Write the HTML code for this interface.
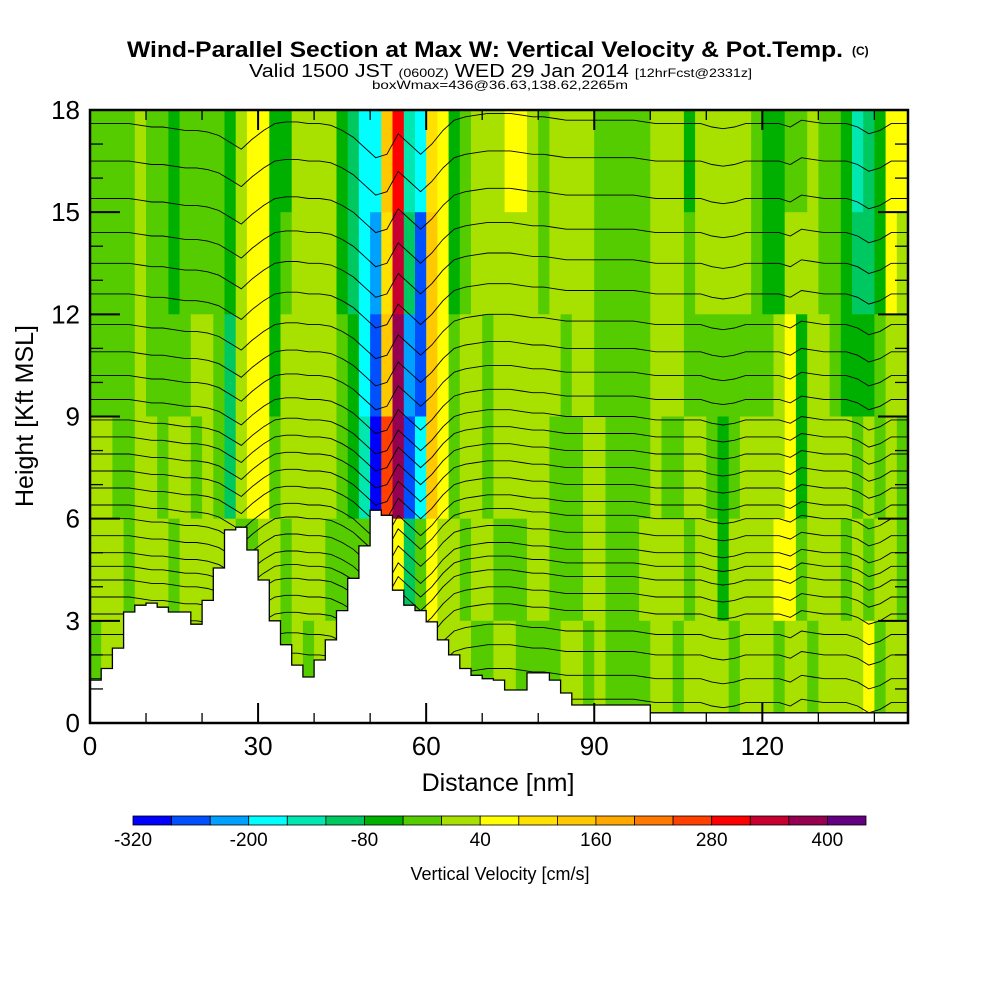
<!DOCTYPE html>
<html><head><meta charset="utf-8"><style>
html,body{margin:0;padding:0;background:#fff;}
svg{display:block;font-family:"Liberation Sans",sans-serif;}
</style></head><body>
<svg id="chart" width="1000" height="1000" viewBox="0 0 1000 1000" xmlns="http://www.w3.org/2000/svg">
<defs><clipPath id="plotclip"><rect x="90" y="110" width="818" height="613"/></clipPath></defs>
<rect x="0" y="0" width="1000" height="1000" fill="#fff"/>
<text x="127" y="57" font-size="22" font-weight="bold" textLength="716" lengthAdjust="spacingAndGlyphs">Wind-Parallel Section at Max W: Vertical Velocity &amp; Pot.Temp.</text>
<text x="852" y="55" font-size="12" font-weight="bold">(C)</text>
<text x="249" y="77" font-size="18" textLength="503" lengthAdjust="spacingAndGlyphs">Valid 1500 JST <tspan font-size="12">(0600Z)</tspan> WED 29 Jan 2014 <tspan font-size="12">[12hrFcst@2331z]</tspan></text>
<text x="372" y="89" font-size="12" textLength="256" lengthAdjust="spacingAndGlyphs">boxWmax=436@36.63,138.62,2265m</text>
<g id="field" clip-path="url(#plotclip)"></g>
<g id="contours" clip-path="url(#plotclip)"></g>
<g id="terrain" clip-path="url(#plotclip)"></g>
<g id="axes"></g>
<text x="498" y="791" font-size="25" text-anchor="middle">Distance [nm]</text>
<text x="33" y="416" font-size="25" text-anchor="middle" transform="rotate(-90 33 416)">Height [Kft MSL]</text>
<g id="colorbar"></g>
<text x="500" y="880" font-size="18" text-anchor="middle">Vertical Velocity [cm/s]</text>
</svg>
<script>
// ---- data ----
const binEdges = [-320,-280,-240,-200,-160,-120,-80,-40,0,40,80,120,160,200,240,280,320,360,400,440];
const binColors = ["#0000ff","#0050ff","#00a0ff","#00ffff","#00e8b0","#00c860","#00b000","#55cc00","#a8e000","#ffff00","#ffe000","#ffc800","#ffa800","#ff7800","#ff4000","#ff0000","#c80030","#960050","#640080"];
const cbLabels = [-320,-200,-80,40,160,280,400];
const xTicks = [0,30,60,90,120];
const yTicks = [0,3,6,9,12,15,18];
const colWidthNm = 2;
const rowEdgesKft = [18,15,12,9,6,3,0];
const w_r0 = [-20,-20,-20,-20,20,-20,-20,-60,-20,-20,-20,-20,-60,20,60,60,-60,-60,20,20,20,20,-60,-100,-180,-180,140,300,-140,-180,100,60,-60,-20,20,20,20,60,60,20,-20,20,20,20,20,-20,-20,-20,-20,-20,20,20,20,-60,20,20,20,20,20,-20,-60,-60,-20,-20,20,-20,-20,-60,-140,-100,-60,60,60];
const w_r1 = [-20,-20,-20,-20,20,-20,-20,-60,-20,-20,-20,-20,-60,20,60,60,-60,-20,20,20,20,20,-60,-100,-180,-220,100,340,-100,-260,140,60,-60,-20,20,20,20,20,20,20,-20,20,20,20,20,-20,-20,-20,-20,-20,20,20,20,-20,20,20,20,20,20,-20,-60,-60,20,20,20,-20,-20,-60,-100,-100,-60,60,20];
const w_r2 = [-20,-20,-20,-20,20,-20,-20,-20,-20,20,20,-20,-100,20,60,60,-60,20,20,20,20,20,-20,-60,-180,-260,140,380,-220,-260,140,60,-20,20,20,-20,20,20,20,20,20,20,-20,20,20,-20,-20,-20,-20,-20,20,20,20,-20,-20,-20,-20,-20,-20,-20,-20,20,60,-60,20,20,-20,-60,-60,-60,-20,20,20];
const w_r3 = [20,20,-20,-20,20,20,-20,20,20,-20,20,-20,-100,20,60,60,-20,20,20,20,20,20,-20,-60,-140,-300,260,380,-260,-180,140,60,-20,20,20,-20,20,20,20,20,20,-20,-20,-20,20,20,-20,-20,-20,-20,20,-20,-20,20,20,-20,-60,-20,20,20,20,20,60,-60,20,20,20,20,-20,20,-20,20,-20];
const w_r4 = [20,20,20,-20,20,20,20,-20,20,20,20,20,20,-20,-20,20,20,-20,20,20,20,-20,-20,-20,-20,-260,180,60,-100,-20,60,20,20,-20,20,20,-20,-20,-20,20,20,-20,-20,-20,20,20,-20,-20,-20,20,20,20,20,-20,20,20,-60,20,20,20,20,60,60,-20,20,20,20,-20,20,-20,20,20,-20];
const w_r5 = [-20,20,20,20,20,20,20,20,-20,20,20,20,20,20,-20,20,-20,-20,20,-20,20,20,20,20,20,20,20,20,-20,-20,20,20,20,20,-20,-20,20,20,-20,-20,-20,-20,20,20,-20,20,-20,-20,-20,-20,20,20,-20,20,20,20,20,-20,20,20,20,-20,20,20,-20,20,20,20,20,60,-20,20,20];
const terrainNm = [0,2,4,6,8,10,12,14,16,18,20,22,24,26,28,30,32,34,36,38,40,42,44,46,48,50,52,54,56,58,60,62,64,66,68,70,72,74,76,78,80,82,84,86,88,90,92,94,96,98,100,146];
const terrainKft = [1.26,1.6,2.2,3.26,3.46,3.52,3.4,3.26,3.26,2.9,3.6,4.55,5.67,5.75,5.08,4.2,3.0,2.3,1.7,1.35,1.85,2.44,3.3,4.25,5.2,6.25,6.1,3.9,3.46,3.3,2.97,2.44,2.0,1.6,1.4,1.3,1.26,0.97,0.97,1.47,1.47,1.26,0.88,0.53,0.53,0.53,0.53,0.53,0.53,0.53,0.3,0.3];
const thetaBaseKft = [0.6,1.3,2.0,2.6,3.2,3.7,4.2,4.6,5.0,5.5,6.0,6.4,6.9,7.4,7.9,8.4,8.9,9.5,10.2,10.9,11.7,12.6,13.5,14.4,15.4,16.5,17.6];
const thetaDispKft = [0,0,0,0,-0.05,-0.1,-0.1,-0.15,-0.2,-0.2,-0.25,-0.35,-0.55,-0.75,-0.45,-0.2,0,0.05,0.05,0,0,-0.05,-0.2,-0.4,-0.7,-1.0,-0.9,-0.3,-0.6,-0.9,-0.6,-0.2,0.1,0.2,0.25,0.3,0.3,0.3,0.25,0.2,0.2,0.15,0.1,0.1,0.1,0.1,0.1,0.1,0.1,0.05,0,0,0,0,0,-0.1,-0.15,-0.1,0,0,0,0,-0.1,0.1,0.05,0,0,0,-0.1,-0.3,-0.2,0,0];

// ---- scales ----
const X0=90, X1=908, Y0=723, Y1=110, XMAX=146, YMAX=18;
const sx = nm => X0 + nm*(X1-X0)/XMAX;
const sy = k => Y0 - k*(Y0-Y1)/YMAX;
const NS="http://www.w3.org/2000/svg";
function mk(tag, attrs, parent){const e=document.createElementNS(NS,tag);for(const k in attrs)e.setAttribute(k,attrs[k]);parent.appendChild(e);return e;}
function colorOf(v){for(let i=0;i<binColors.length;i++){if(v<binEdges[i+1])return binColors[i];}return binColors[binColors.length-1];}

// field
const rows=[w_r0,w_r1,w_r2,w_r3,w_r4,w_r5];
const field=document.getElementById('field');
rows.forEach((row,r)=>{
  row.forEach((v,i)=>{
    const x0=sx(i*colWidthNm), x1=sx(Math.min((i+1)*colWidthNm,XMAX));
    const yt=sy(rowEdgesKft[r]), yb=sy(rowEdgesKft[r+1]);
    const c=mk('rect',{x:x0.toFixed(1),y:yt.toFixed(1),width:(x1-x0+0.6).toFixed(1),height:(yb-yt+0.6).toFixed(1),fill:colorOf(v)},field);
    
    
  });
});

// contours
const cg=document.getElementById('contours');
thetaBaseKft.forEach((b,j)=>{
  let pts=[];
  for(let i=0;i<thetaDispKft.length;i++){
    const nm=Math.min(i*colWidthNm+1,XMAX);
    pts.push(sx(i===0?0:nm).toFixed(1)+','+sy(b+thetaDispKft[i]).toFixed(1));
  }
  pts.push(sx(XMAX).toFixed(1)+','+sy(b+thetaDispKft[thetaDispKft.length-1]).toFixed(1));
  const p=mk('polyline',{points:pts.join(' '),fill:'none',stroke:'#000','stroke-width':0.9},cg);
  
  
});

// terrain (stepped)
const tg=document.getElementById('terrain');
let tp=[sx(0)+','+sy(0)];
for(let i=0;i<terrainNm.length-1;i++){
  const y=sy(terrainKft[i]).toFixed(1);
  tp.push(sx(terrainNm[i]).toFixed(1)+','+y);
  tp.push(sx(terrainNm[i+1]).toFixed(1)+','+y);
}
tp.push(sx(XMAX)+','+sy(terrainKft[terrainKft.length-1]).toFixed(1));
tp.push(sx(XMAX)+','+sy(0));
const terr=mk('polygon',{points:tp.join(' '),fill:'#fff',stroke:'#000','stroke-width':1.3},tg);



// axes
const ag=document.getElementById('axes');
const frame=mk('rect',{x:X0,y:Y1,width:X1-X0,height:Y0-Y1,fill:'none',stroke:'#000','stroke-width':2.5},ag);


for(let k=0;k<=YMAX;k++){
  const len=(k%3===0)?30:13;
  mk('line',{x1:X0,x2:X0+len,y1:sy(k),y2:sy(k),stroke:'#000','stroke-width':k%3===0?2:1.3},ag);
  mk('line',{x1:X1,x2:X1-len,y1:sy(k),y2:sy(k),stroke:'#000','stroke-width':k%3===0?2:1.3},ag);
}
for(let n=0;n<=XMAX;n+=10){
  const major=(n%30===0), len=major?20:10;
  mk('line',{x1:sx(n),x2:sx(n),y1:Y0,y2:Y0-len,stroke:'#000','stroke-width':major?2:1.3},ag);
  mk('line',{x1:sx(n),x2:sx(n),y1:Y1,y2:Y1+len,stroke:'#000','stroke-width':major?2:1.3},ag);
}
yTicks.forEach(v=>{
  const t=mk('text',{x:80,y:(sy(v)+9).toFixed(1),'font-size':26,'text-anchor':'end'},ag);
  t.textContent=v;
  
  
});
xTicks.forEach(v=>{
  const t=mk('text',{x:sx(v).toFixed(1),y:755,'font-size':26,'text-anchor':'middle'},ag);
  t.textContent=v;
  
  
});

// colorbar
const cb=document.getElementById('colorbar');
const CB0=133, CB1=866, CBW=(CB1-CB0)/binColors.length;
binColors.forEach((c,i)=>{
  const r=mk('rect',{x:(CB0+i*CBW).toFixed(1),y:816,width:CBW.toFixed(1),height:9,fill:c,stroke:'#000','stroke-width':0.8},cb);
  
  
});
cbLabels.forEach(v=>{
  const idx=binEdges.indexOf(v);
  const t=mk('text',{x:(CB0+idx*CBW).toFixed(1),y:846,'font-size':19,'text-anchor':'middle'},cb);
  t.textContent=v;
  
  
});
</script>
</body></html>
